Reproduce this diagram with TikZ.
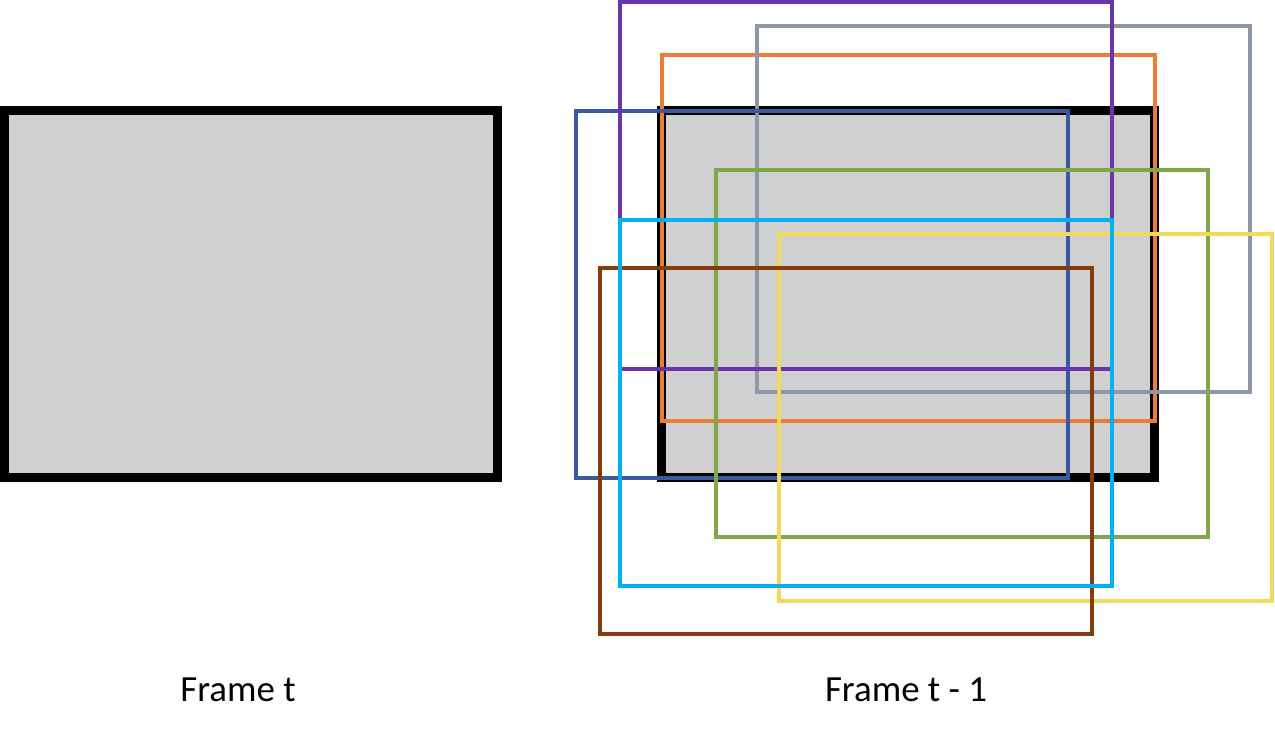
\documentclass[tikz,border=0pt]{standalone}
\usepackage{fontspec}
\setmainfont{Carlito}
\usepackage{xcolor}
\usepackage{tikz}
\usetikzlibrary{positioning}
\definecolor{framegray}{HTML}{D0D0D0}
\definecolor{boxpurple}{HTML}{6A35A8}
\definecolor{boxgray}{HTML}{8E97A5}
\definecolor{boxorange}{HTML}{ED7D31}
\definecolor{boxnavy}{HTML}{3A5AA0}
\definecolor{boxgreen}{HTML}{80A84A}
\definecolor{boxcyan}{HTML}{00B0F0}
\definecolor{boxyellow}{HTML}{F2DA5E}
\definecolor{boxbrown}{HTML}{843C0C}

\begin{document}
\begin{tikzpicture}[
                  x=0.02cm, y=-0.02cm,
                  frame/.style={
                              draw=black, line width=1.8mm, fill=framegray,
                              minimum width=9.86cm, minimum height=7.34cm, inner sep=0pt
                        },
                  cand/.style={
                              draw=#1, line width=0.8mm,
                              minimum width=9.86cm, minimum height=7.34cm, inner sep=0pt
                        },
                  caption/.style={font=\fontsize{21}{25}\selectfont, inner sep=0pt},
            ]
            \useasboundingbox (0,0) rectangle (1275,736);

            % Frames
            \node[frame] (framet)    at (251,294) {};
            \node[frame] (frameprev) at (908,294) {};

            % Candidate boxes in frame t-1
            \node[cand=boxorange] (orange) at (908.5,238) {};
            \node[cand=boxgray]   (gray)   at (1003.5,209) {};
            \node[cand=boxnavy]   (navy)   at (822,294.5) {};
            \node[cand=boxpurple] (purple) at (866,185.5) {};
            \node[cand=boxgreen]  (green)  at (962,353.5) {};
            \node[cand=boxyellow] (yellow) at (1025.5,417.5) {};
            \node[cand=boxbrown]  (brown)  at (846,451) {};
            \node[cand=boxcyan]   (cyan)   at (866,403) {};

            % Captions
            \node[caption] (capt)    at (238,690) {Frame t};
            \node[caption] (capprev) at (906,690) {Frame t - 1};
      \end{tikzpicture}
\end{document}
